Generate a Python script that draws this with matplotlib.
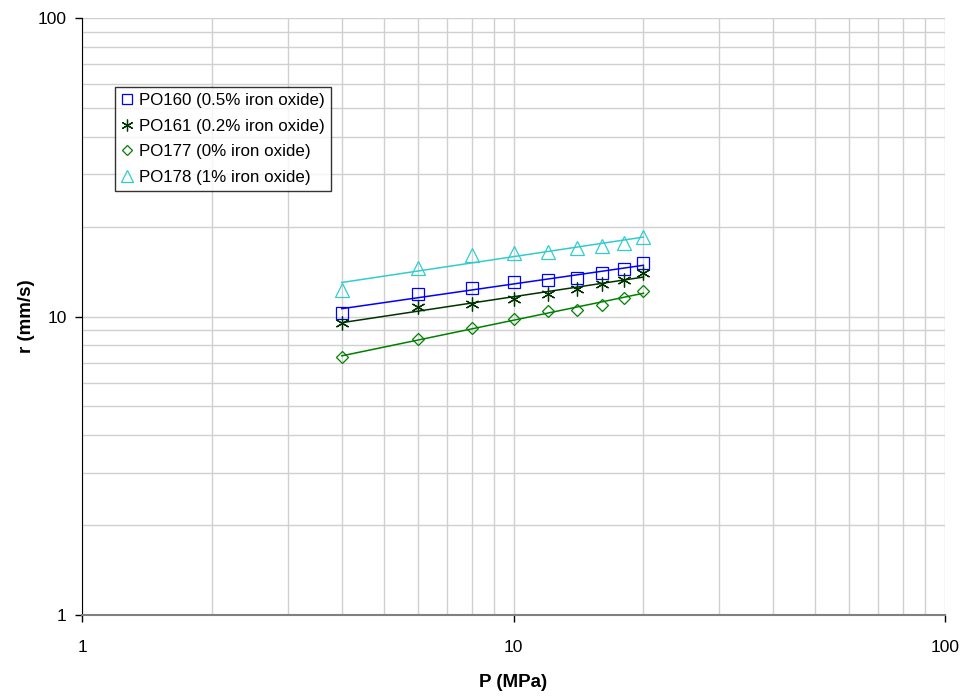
import numpy as np
import matplotlib
matplotlib.use('Agg')
from matplotlib import pyplot as plt
from matplotlib.ticker import FuncFormatter, LogLocator, NullFormatter

plt.rcParams['font.family'] = ['Liberation Sans', 'DejaVu Sans']

# pressure (MPa)
P = [4, 6, 8, 10, 12, 14, 16, 18, 20]

# burning rate (mm/s)
r_po160 = [10.3, 11.9, 12.5, 13.1, 13.25, 13.5, 13.95, 14.4, 15.1]
r_po161 = [9.5, 10.75, 11.05, 11.45, 11.9, 12.35, 12.85, 13.25, 14.0]
r_po177 = [7.3, 8.4, 9.15, 9.8, 10.45, 10.55, 10.95, 11.55, 12.15]
r_po178 = [12.3, 14.5, 16.1, 16.3, 16.45, 16.95, 17.2, 17.6, 18.5]

labels = ['PO160 (0.5% iron oxide)', 'PO161 (0.2% iron oxide)',
          'PO177 (0% iron oxide)', 'PO178 (1% iron oxide)']
series = [r_po160, r_po161, r_po177, r_po178]
colors = ['#0000FF', '#003300', '#008000', '#33CCCC']
markers = ['s', 'x', 'D', '^']

fig = plt.figure(figsize=(9.64, 6.96), dpi=100)
ax = fig.add_axes([0.0851, 0.1164, 0.8952, 0.8577])

x = np.array(P, dtype=float)
for r, lab, c, m in zip(series, labels, colors, markers):
    y = np.array(r)
    # power-law trend line
    b, a = np.polyfit(np.log10(x), np.log10(y), 1)
    ax.plot(x, 10 ** (a + b * np.log10(x)), color=c, lw=1.1, zorder=3)
    if m == 'x':
        ax.plot(x, y, ls='none', marker=(6, 2, 0), ms=10, mew=0.9,
                color=c, label=lab, zorder=4)
    else:
        ms = {'s': 8, 'D': 6.5, '^': 9.5}[m]
        ax.plot(x, y, ls='none', marker=m, ms=ms, mfc='none', mew=0.9,
                mec=c, label=lab, zorder=4)

ax.set_xscale('log')
ax.set_yscale('log')
ax.set_xlim(1, 100)
ax.set_ylim(1, 100)

fmt = FuncFormatter(lambda v, p: '%g' % v)
ax.xaxis.set_major_formatter(fmt)
ax.yaxis.set_major_formatter(fmt)
ax.xaxis.set_minor_locator(LogLocator(base=10, subs=np.arange(2, 10)))
ax.yaxis.set_minor_locator(LogLocator(base=10, subs=np.arange(2, 10)))
ax.xaxis.set_minor_formatter(NullFormatter())
ax.yaxis.set_minor_formatter(NullFormatter())

ax.grid(True, which='both', color='#D0D0D0', lw=1.0)
ax.set_axisbelow(True)
ax.tick_params(which='minor', length=0)
ax.tick_params(which='major', length=5, width=1, labelsize=12.5)
ax.tick_params(axis='x', pad=13)
ax.tick_params(axis='y', pad=6)

for s in ['top', 'right']:
    ax.spines[s].set_visible(False)
ax.spines['bottom'].set_color('#808080')
ax.spines['bottom'].set_linewidth(1.5)
ax.spines['left'].set_color('black')

ax.set_xlabel('P (MPa)', fontsize=13.5, fontweight='bold', labelpad=14)
ax.set_ylabel('r (mm/s)', fontsize=13.5, fontweight='bold', labelpad=2)

leg = ax.legend(loc='upper left', bbox_to_anchor=(0.038, 0.884), fontsize=12.2,
                frameon=True, fancybox=False, edgecolor='black',
                handlelength=0.7, handletextpad=0.4, borderpad=0.35,
                labelspacing=0.62, borderaxespad=0, markerscale=0.85)
leg.get_frame().set_linewidth(1.0)

fig.savefig('out.png', dpi=100)
